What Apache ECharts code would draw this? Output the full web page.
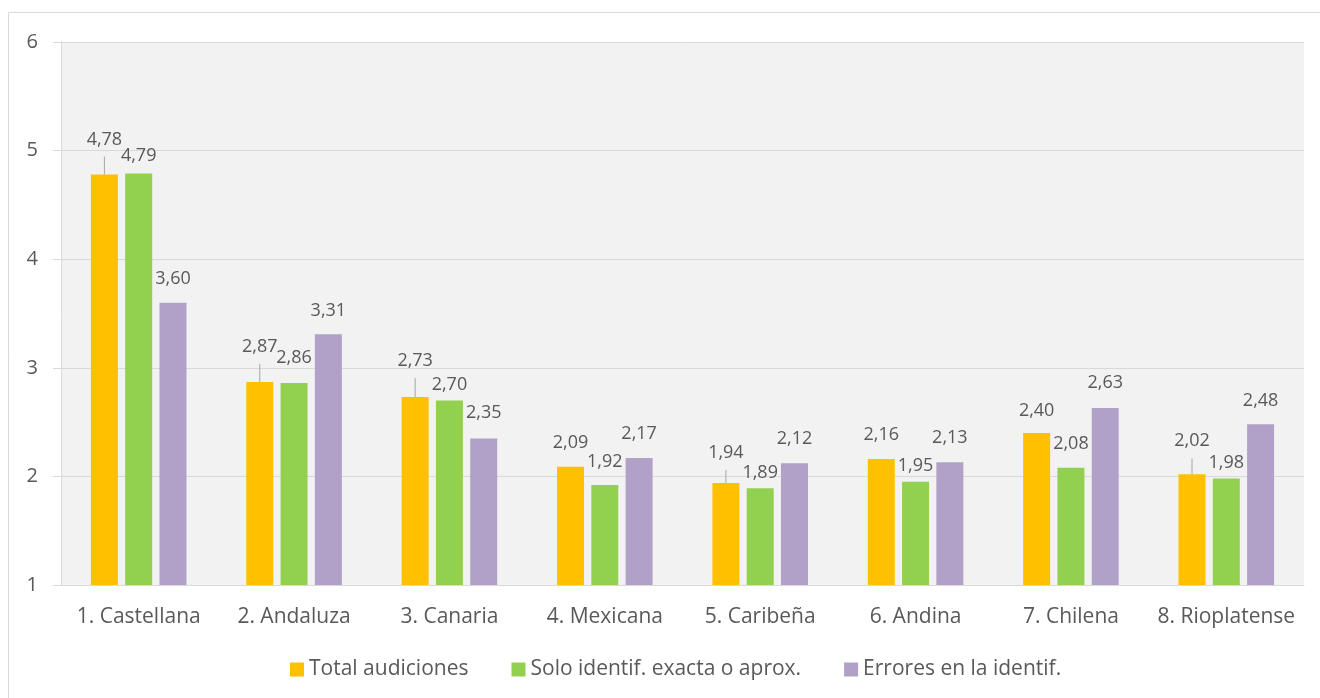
<!DOCTYPE html>
<html>
<head>
<meta charset="utf-8">
<script src="https://cdn.jsdelivr.net/npm/echarts@6/dist/echarts.min.js"></script>
<style>
  html, body { margin: 0; padding: 0; background: #ffffff; }
  #chart { width: 1320px; height: 698px; }
</style>
</head>
<body>
<div id="chart"></div>
<script>
// Variedades del español: valoración media por audición
const categories = ['1. Castellana', '2. Andaluza', '3. Canaria', '4. Mexicana',
                    '5. Caribeña', '6. Andina', '7. Chilena', '8. Rioplatense'];
const seriesNames = ['Total audiciones', 'Solo identif. exacta o aprox.', 'Errores en la identif.'];
const totalAudiciones = [4.78, 2.87, 2.73, 2.09, 1.94, 2.16, 2.40, 2.02];
const soloIdentif     = [4.79, 2.86, 2.70, 1.92, 1.89, 1.95, 2.08, 1.98];
const erroresIdentif  = [3.60, 3.31, 2.35, 2.17, 2.12, 2.13, 2.63, 2.48];
const yMin = 1, yMax = 6, yStep = 1;

// Label placement: leader-line length (0 = none) and gap above each bar
const leaderLen   = [18, 18, 19, 0, 13, 0, 0, 16];
const orangeGap   = [0, 0, 0, 15, 0, 15, 13, 0];
const greenGap    = [9, 16, 7, 14, 6, 7, 15, 7];
const purpleGap   = [15, 14, 17, 15, 15, 15, 16, 14];

const FONT = '"Open Sans", "Noto Sans", sans-serif';
const TXT = '#595959';
const colors = ['#FFC000', '#92D050', '#B1A0C7'];

const fmt = v => v.toFixed(2).replace('.', ',');

function plainItems(values, gaps) {
  return values.map((v, i) => ({
    value: v,
    label: { distance: gaps[i] }
  }));
}

function orangeItems(values) {
  return values.map((v, i) => {
    if (leaderLen[i] > 0) {
      return {
        value: v,
        label: {
          distance: 0,
          formatter: '{v|' + fmt(v) + '}\n{l| }',
          rich: {
            v: { fontSize: 18, fontFamily: FONT, color: TXT, lineHeight: 34 },
            l: { width: 1, height: leaderLen[i], lineHeight: leaderLen[i],
                 fontSize: 1, backgroundColor: '#A6A6A6' }
          }
        }
      };
    }
    return { value: v, label: { distance: orangeGap[i] } };
  });
}

const labelBase = {
  show: true,
  position: 'top',
  fontSize: 18,
  lineHeight: 18,
  fontFamily: FONT,
  color: TXT,
  formatter: p => fmt(p.value)
};

const chart = echarts.init(document.getElementById('chart'), null, { renderer: 'canvas' });

chart.setOption({
  animation: false,
  backgroundColor: '#ffffff',
  color: colors,
  textStyle: { fontFamily: FONT },
  graphic: [{
    type: 'rect',
    silent: true,
    shape: { x: 8.5, y: 12.5, width: 1340, height: 720 },
    style: { fill: 'none', stroke: '#D9D9D9', lineWidth: 1 }
  }],
  grid: {
    left: 61, right: 16, top: 42, bottom: 113,
    show: true, backgroundColor: '#F2F2F2', borderWidth: 0
  },
  legend: {
    data: seriesNames,
    bottom: 13,
    left: 285,
    itemWidth: 14,
    itemHeight: 14,
    itemGap: 43,
    icon: 'rect',
    textStyle: { fontSize: 21, fontFamily: FONT, color: TXT }
  },
  xAxis: {
    type: 'category',
    data: categories,
    axisLine: { show: true, lineStyle: { color: '#D9D9D9', width: 1 } },
    axisTick: { show: false },
    axisLabel: { fontSize: 21, fontFamily: FONT, color: TXT, margin: 22, interval: 0 }
  },
  yAxis: {
    type: 'value',
    min: yMin, max: yMax, interval: yStep,
    axisLine: { show: true, lineStyle: { color: '#D9D9D9', width: 1 } },
    axisTick: { show: true, length: 8, lineStyle: { color: '#D9D9D9' } },
    splitLine: { show: true, lineStyle: { color: '#D9D9D9', width: 1 } },
    axisLabel: { fontSize: 20, fontFamily: FONT, color: TXT, margin: 23 }
  },
  series: [
    {
      name: seriesNames[0], type: 'bar',
      barWidth: 27, barGap: '27%',
      label: labelBase,
      emphasis: { disabled: true },
      data: orangeItems(totalAudiciones)
    },
    {
      name: seriesNames[1], type: 'bar',
      barWidth: 27, barGap: '27%',
      label: labelBase,
      emphasis: { disabled: true },
      data: plainItems(soloIdentif, greenGap)
    },
    {
      name: seriesNames[2], type: 'bar',
      barWidth: 27, barGap: '27%',
      label: labelBase,
      emphasis: { disabled: true },
      data: plainItems(erroresIdentif, purpleGap)
    }
  ]
});
</script>
</body>
</html>
